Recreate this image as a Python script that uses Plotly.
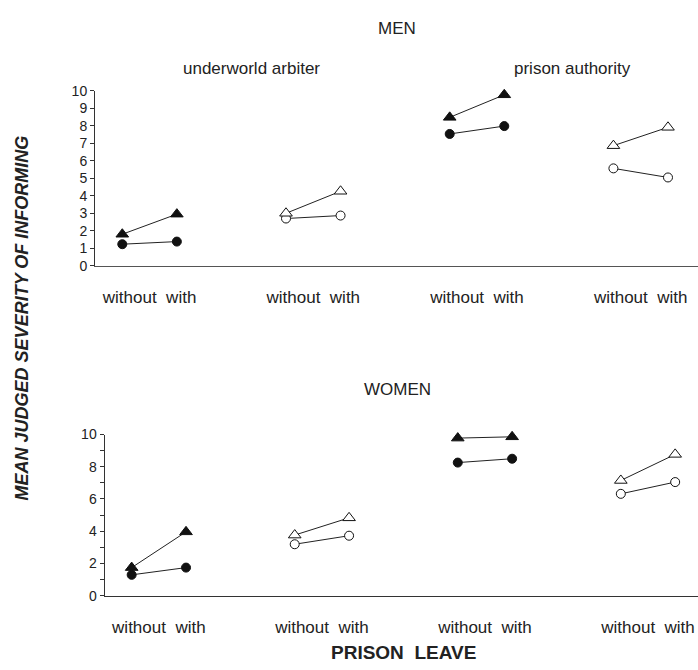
import plotly.graph_objects as go

W, H = 698, 670

# ---- data ----
positions = [1, 2, 4, 5, 7, 8, 10, 11]
pair_filled = [True, False, True, False]          # per group: filled / open markers
group_label_pos = [1.5, 4.5, 7.5, 10.5]
group_label_text = ["without\u00a0 with"] * 4

men_triangle = [1.80, 2.95, 3.00, 4.26, 8.49, 9.78, 6.87, 7.92]
men_circle = [1.23, 1.38, 2.70, 2.87, 7.54, 7.99, 5.57, 5.05]
women_triangle = [1.74, 3.96, 3.76, 4.83, 9.78, 9.86, 7.15, 8.77]
women_circle = [1.29, 1.74, 3.19, 3.72, 8.26, 8.50, 6.32, 7.05]

men_yticks = list(range(0, 11))
men_yticktext = [str(v) for v in men_yticks]
women_yticks = list(range(0, 11))
women_yticktext = [str(v) if v % 2 == 0 else "" for v in women_yticks]

FONT = "Liberation Sans, Arial, sans-serif"
TXT = "#222222"

fig = go.Figure()


def add_panel(tri, circ, xa, ya):
    for g in range(4):
        xs = positions[2 * g:2 * g + 2]
        filled = pair_filled[g]
        for vals, sym, size in ((circ, "circle", 9), (tri, "triangle-up", 11)):
            ys = vals[2 * g:2 * g + 2]
            fig.add_trace(go.Scatter(
                x=xs, y=ys, xaxis=xa, yaxis=ya, mode="lines+markers",
                line=dict(color="#222222", width=1),
                marker=dict(symbol=sym, size=size,
                            color="#111111" if filled else "white",
                            line=dict(color="#111111", width=1)),
                showlegend=False, cliponaxis=False, hoverinfo="skip"))


add_panel(men_triangle, men_circle, "x", "y")
add_panel(women_triangle, women_circle, "x2", "y2")


def px(x):
    return x / W


def py(y):
    return 1 - y / H


axis_common = dict(showgrid=False, zeroline=False, showline=True, linewidth=1)

fig.update_layout(
    width=W, height=H, margin=dict(l=0, r=0, t=0, b=0),
    paper_bgcolor="white", plot_bgcolor="white",
    font=dict(family=FONT, color=TXT),
    xaxis=dict(domain=[px(95), 1], range=[0.5, 11.55], anchor="y",
               ticks="", tickvals=group_label_pos, ticktext=group_label_text,
               tickfont=dict(size=17, color=TXT), ticklabelstandoff=16,
               linecolor="#555555", **axis_common),
    yaxis=dict(domain=[py(264), py(85)], range=[0, 10], anchor="x",
               ticks="outside", ticklen=4, tickcolor="#333333",
               tickvals=men_yticks, ticktext=men_yticktext,
               tickfont=dict(size=14, color=TXT), linecolor="#333333",
               **axis_common),
    xaxis2=dict(domain=[px(104.5), 1], range=[0.5, 11.42], anchor="y2",
                ticks="", tickvals=group_label_pos, ticktext=group_label_text,
                tickfont=dict(size=17, color=TXT), ticklabelstandoff=16,
                linecolor="#333333", **axis_common),
    yaxis2=dict(domain=[py(602), py(437)], range=[0, 10], anchor="x2",
                ticks="outside", ticklen=4, tickcolor="#333333",
                tickvals=women_yticks, ticktext=women_yticktext,
                tickfont=dict(size=14, color=TXT), linecolor="#333333",
                **axis_common),
)

annos = [
    ("MEN", 397, 21, 17, False),
    ("underworld arbiter", 251, 62, 17, False),
    ("prison authority", 572, 62, 17, False),
    ("WOMEN", 397, 391, 17, False),
    ("PRISON\u00a0 LEAVE", 404, 660, 19, True),
]
for text, x, y, size, bold in annos:
    t = f"<b>{text}</b>" if bold else text
    fig.add_annotation(x=px(x), y=py(y), xref="paper", yref="paper",
                       text=t, showarrow=False, xanchor="center", yanchor="middle",
                       font=dict(size=size, family=FONT, color=TXT))

fig.add_annotation(x=px(22), y=py(318), xref="paper", yref="paper",
                   text="<b><i>MEAN JUDGED SEVERITY OF INFORMING</i></b>",
                   textangle=-90, showarrow=False, xanchor="center", yanchor="middle",
                   font=dict(size=18, family=FONT, color=TXT))

fig.write_html(
    "out.html",
    config={"displayModeBar": False, "responsive": False},
    post_script=(
        "document.documentElement.style.margin='0';"
        "document.documentElement.style.padding='0';"
        "document.documentElement.style.overflow='hidden';"
        "document.body.style.margin='0';"
        "document.body.style.padding='0';"
        "document.body.style.overflow='hidden';"
        "document.body.style.height='670px';"
    ),
)
